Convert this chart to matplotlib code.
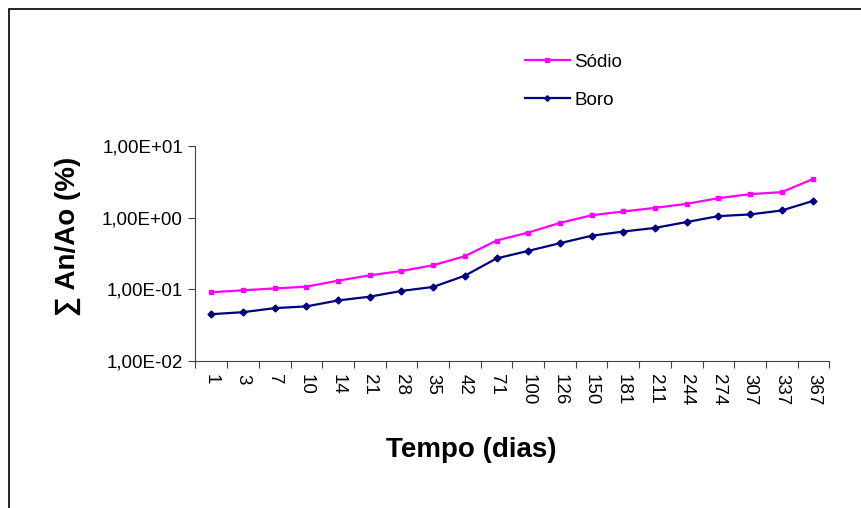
import matplotlib.pyplot as plt
import matplotlib
from matplotlib.patches import Rectangle
from matplotlib.ticker import FixedLocator, FuncFormatter, NullLocator

matplotlib.rcParams['font.family'] = ['Liberation Sans', 'DejaVu Sans']

dias = ['1', '3', '7', '10', '14', '21', '28', '35', '42', '71', '100', '126',
        '150', '181', '211', '244', '274', '307', '337', '367']
sodio = [0.091, 0.097, 0.103, 0.109, 0.132, 0.157, 0.180, 0.217, 0.29, 0.48,
         0.62, 0.845, 1.08, 1.22, 1.37, 1.56, 1.87, 2.13, 2.27, 3.49]
boro = [0.045, 0.048, 0.0547, 0.0578, 0.070, 0.079, 0.095, 0.108, 0.155, 0.27,
        0.344, 0.44, 0.56, 0.64, 0.72, 0.87, 1.05, 1.11, 1.26, 1.72]

W, H = 862, 508
fig = plt.figure(figsize=(W / 100, H / 100), dpi=100)
ax = fig.add_axes([195.5 / W, 1 - 361 / H, (829.3 - 195.5) / W, (361 - 146) / H])

x = list(range(len(dias)))
l1, = ax.plot(x, sodio, color='#FF00FF', lw=1.6, marker='s', ms=3.5, label='Sódio')
l2, = ax.plot(x, boro, color='#000080', lw=1.6, marker='D', ms=3.5, label='Boro')

ax.set_yscale('log')
ax.set_ylim(0.01, 10)
ax.set_xlim(-0.5, len(dias) - 0.5)

def fmt(v, pos):
    s = '%.2E' % v
    return s.replace('.', ',')

ax.yaxis.set_major_locator(FixedLocator([0.01, 0.1, 1, 10]))
ax.yaxis.set_minor_locator(NullLocator())
ax.yaxis.set_major_formatter(FuncFormatter(fmt))

# ticks between categories, labels at the centres
ax.xaxis.set_major_locator(FixedLocator([i - 0.5 for i in range(len(dias) + 1)]))
ax.xaxis.set_major_formatter(FuncFormatter(lambda v, p: ''))
ax.set_xticks(x, dias, minor=True, rotation=270)
ax.tick_params(axis='x', which='minor', length=0, pad=9, labelsize=13.5)
ax.tick_params(axis='x', which='major', length=5, color='#404040')
ax.tick_params(axis='y', length=5, color='#404040', labelsize=13.5, pad=4)

for s in ['top', 'right']:
    ax.spines[s].set_visible(False)
for s in ['left', 'bottom']:
    ax.spines[s].set_color('#404040')

fig.text(68 / W, 1 - 236 / H, '∑ An/Ao (%)', rotation=90, ha='center', va='center',
         fontsize=20, fontweight='bold')
fig.text(471 / W, 1 - 450 / H, 'Tempo (dias)', ha='center', va='center',
         fontsize=20, fontweight='bold')

fig.legend(handles=[l1, l2], loc='upper left', bbox_to_anchor=(508 / W, 1 - 37 / H),
           frameon=False, fontsize=13.5, handlelength=2.4, handletextpad=0.25,
           labelspacing=1.1, markerscale=0.8)

fig.patches.append(Rectangle((9 / W, -0.1), 1.2, 1.1 - 9 / H, transform=fig.transFigure,
                             fill=False, edgecolor='black', lw=1.2))

plt.savefig('out.png', dpi=100)
